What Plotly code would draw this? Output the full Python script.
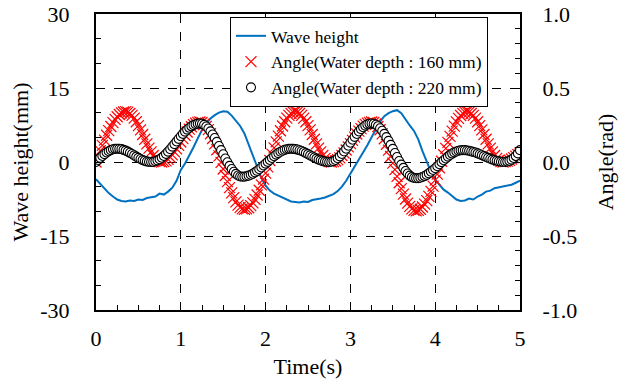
import plotly.graph_objects as go

# ---------------- data ----------------
# wave height (mm), sampled every 0.05 s from 0 to 5 s
time_wave = [round(i * 0.05, 3) for i in range(101)]
wave_height = [
    -3.5, -4.5, -5.5, -6.3, -7.0, -7.6, -7.9, -8.0, -7.8, -7.9,
    -7.6, -7.7, -7.3, -7.2, -7.0, -6.4, -6.6, -6.0, -5.2, -3.8,
    -1.6, -0.3, 1.2, 3.0, 4.8, 6.5, 7.8, 8.8, 9.5, 10.0,
    10.3, 10.2, 9.4, 8.3, 7.3, 5.8, 3.6, 1.0, -1.2, -3.2,
    -4.8, -5.8, -6.4, -6.8, -7.3, -7.7, -8.0, -8.1, -8.2, -8.0,
    -8.1, -7.7, -7.6, -7.4, -7.2, -6.9, -6.5, -5.9, -5.0, -3.8,
    -2.4, -1.0, 0.6, 2.0, 3.4, 5.0, 6.6, 8.2, 9.3, 9.9,
    10.3, 10.5, 9.9, 8.6, 7.4, 6.3, 4.6, 2.2, 0.0, -2.0,
    -3.6, -4.6, -5.6, -6.2, -6.9, -7.6, -7.9, -7.8, -7.4, -7.6,
    -7.0, -6.6, -6.0, -5.8, -5.3, -5.1, -4.9, -4.7, -4.6, -4.2,
    -3.8,
]

# angles (rad), sampled every 0.025 s from 0 to 5 s
time_angle = [round(i * 0.025, 3) for i in range(201)]
angle_160 = [
    0.0, 0.038, 0.076, 0.112, 0.148, 0.181, 0.212, 0.240, 0.266, 0.288,
    0.306, 0.321, 0.332, 0.338, 0.34,
    0.337, 0.328, 0.315, 0.296, 0.272, 0.246, 0.217, 0.186, 0.154, 0.123,
    0.094, 0.068, 0.044, 0.025, 0.011, 0.003, 0.0,
    0.002, 0.008, 0.018, 0.032, 0.048, 0.068, 0.089, 0.112, 0.135, 0.158,
    0.181, 0.203, 0.222, 0.238, 0.252, 0.262, 0.268, 0.27,
    0.267, 0.257, 0.241, 0.219, 0.191, 0.159, 0.123, 0.083, 0.041, -0.003,
    -0.047, -0.091, -0.133, -0.173, -0.209, -0.241, -0.269, -0.291, -0.307, -0.317,
    -0.32,
    -0.317, -0.309, -0.295, -0.276, -0.252, -0.223, -0.191, -0.155, -0.116, -0.075,
    -0.033, 0.010, 0.053, 0.095, 0.136, 0.175, 0.211, 0.243, 0.272, 0.296,
    0.315, 0.329, 0.337, 0.34,
    0.337, 0.328, 0.315, 0.296, 0.272, 0.246, 0.217, 0.186, 0.154, 0.123,
    0.094, 0.068, 0.044, 0.025, 0.011, 0.003, 0.0,
    0.002, 0.007, 0.016, 0.028, 0.044, 0.061, 0.081, 0.102, 0.124, 0.146,
    0.168, 0.189, 0.209, 0.226, 0.242, 0.254, 0.263, 0.268, 0.27,
    0.267, 0.257, 0.240, 0.218, 0.190, 0.157, 0.120, 0.080, 0.037, -0.008,
    -0.052, -0.097, -0.140, -0.180, -0.217, -0.250, -0.278, -0.300, -0.317, -0.327,
    -0.33,
    -0.327, -0.319, -0.304, -0.285, -0.261, -0.232, -0.199, -0.163, -0.123, -0.082,
    -0.039, 0.005, 0.049, 0.092, 0.133, 0.173, 0.209, 0.242, 0.271, 0.295,
    0.314, 0.329, 0.337, 0.34,
    0.337, 0.328, 0.315, 0.296, 0.272, 0.246, 0.217, 0.186, 0.154, 0.123,
    0.094, 0.068, 0.044, 0.025, 0.011, 0.003, 0.0,
    0.002, 0.006, 0.012, 0.020, 0.030, 0.040, 0.050, 0.060,
]
angle_220 = [
    0.0, 0.014, 0.028, 0.041, 0.053, 0.064, 0.073, 0.080, 0.086, 0.089,
    0.09,
    0.089, 0.087, 0.082, 0.077, 0.070, 0.062, 0.054, 0.045, 0.036, 0.028,
    0.020, 0.013, 0.008, 0.003, 0.001, 0.0,
    0.001, 0.005, 0.011, 0.019, 0.029, 0.041, 0.055, 0.070, 0.086, 0.104,
    0.121, 0.139, 0.156, 0.174, 0.190, 0.205, 0.219, 0.231, 0.241, 0.249,
    0.255, 0.259, 0.26,
    0.258, 0.251, 0.240, 0.226, 0.207, 0.186, 0.162, 0.136, 0.108, 0.080,
    0.052, 0.024, -0.002, -0.026, -0.047, -0.066, -0.080, -0.091, -0.098, -0.10,
    -0.099, -0.096, -0.092, -0.086, -0.079, -0.070, -0.060, -0.049, -0.037, -0.024,
    -0.011, 0.001, 0.014, 0.027, 0.039, 0.050, 0.060, 0.069, 0.076, 0.082,
    0.086, 0.089, 0.09,
    0.089, 0.087, 0.084, 0.079, 0.074, 0.068, 0.060, 0.053, 0.045, 0.037,
    0.030, 0.023, 0.016, 0.011, 0.006, 0.003, 0.001, 0.0,
    0.002, 0.006, 0.014, 0.025, 0.038, 0.054, 0.071, 0.090, 0.110, 0.130,
    0.150, 0.170, 0.189, 0.206, 0.222, 0.235, 0.246, 0.254, 0.258, 0.26,
    0.258, 0.252, 0.242, 0.228, 0.211, 0.190, 0.168, 0.143, 0.116, 0.089,
    0.061, 0.034, 0.007, -0.018, -0.040, -0.061, -0.078, -0.092, -0.102, -0.108,
    -0.11,
    -0.109, -0.106, -0.101, -0.095, -0.087, -0.077, -0.066, -0.054, -0.042, -0.029,
    -0.015, -0.001, 0.012, 0.024, 0.036, 0.047, 0.057, 0.065, 0.071, 0.076,
    0.079, 0.08,
    0.080, 0.078, 0.076, 0.072, 0.068, 0.064, 0.058, 0.052, 0.046, 0.040,
    0.034, 0.028, 0.022, 0.016, 0.012, 0.008, 0.004, 0.002, 0.0, 0.0,
    0.003, 0.008, 0.016, 0.027, 0.040, 0.058, 0.08,
]

x_ticks = [0, 1, 2, 3, 4, 5]
x_ticktext = ["0", "1", "2", "3", "4", "5"]
y_ticks = [-30, -15, 0, 15, 30]
y_ticktext = ["-30", "-15", "0", "15", "30"]
y2_ticks = [-1.0, -0.5, 0.0, 0.5, 1.0]
y2_ticktext = ["-1.0", "-0.5", "0.0", "0.5", "1.0"]

FONT = "Liberation Serif"
TICK_SIZE = 22
TITLE_SIZE = 22

fig = go.Figure()
fig.add_trace(go.Scatter(
    x=time_wave, y=wave_height, mode="lines", name="Wave height",
    line=dict(color="#0070C0", width=2), yaxis="y",
))
fig.add_trace(go.Scatter(
    x=time_angle, y=angle_160, mode="markers", name="Angle(Water depth : 160 mm)",
    marker=dict(symbol="x-thin", size=11, line=dict(color="#FF0000", width=1.2),
                color="#FF0000"),
    yaxis="y2",
))
fig.add_trace(go.Scatter(
    x=time_angle, y=angle_220, mode="markers", name="Angle(Water depth : 220 mm)",
    marker=dict(symbol="circle", size=9, color="white",
                line=dict(color="black", width=1.1)),
    yaxis="y2",
))

fig.update_layout(
    width=625, height=387,
    margin=dict(l=96, r=105, t=14, b=77),
    paper_bgcolor="white", plot_bgcolor="white",
    font=dict(family=FONT, color="black", size=TICK_SIZE),
    showlegend=True,
    legend=dict(
        x=0.316, y=0.99, xanchor="left", yanchor="top",
        bgcolor="white", bordercolor="black", borderwidth=1,
        font=dict(family=FONT, size=17.5, color="black"),
        tracegroupgap=0, itemsizing="trace",
    ),
    xaxis=dict(
        range=[0, 5], tickmode="array", tickvals=x_ticks, ticktext=x_ticktext,
        ticks="inside", ticklen=6, tickwidth=1, tickcolor="black",
        showline=True, linecolor="black", linewidth=2, mirror=True,
        showgrid=True, gridcolor="black", griddash="dash", gridwidth=1,
        zeroline=False, ticklabelstandoff=8, automargin=False,
        minor=dict(tickmode="linear", tick0=0, dtick=0.25, ticks="inside",
                   ticklen=5, tickcolor="black", showgrid=False),
        title=dict(text="Time(s)", font=dict(size=TITLE_SIZE), standoff=8),
        tickfont=dict(size=TICK_SIZE),
    ),
    yaxis=dict(
        range=[-30, 30], tickmode="array", tickvals=y_ticks, ticktext=y_ticktext,
        ticks="inside", ticklen=6, tickwidth=1, tickcolor="black",
        showline=True, linecolor="black", linewidth=2, mirror=True,
        showgrid=True, gridcolor="black", griddash="dash", gridwidth=1,
        zeroline=False, ticklabelstandoff=20, automargin=False,
        ticklabeloverflow="allow",
        minor=dict(tickmode="linear", tick0=0, dtick=5, ticks="inside",
                   ticklen=5, tickcolor="black", showgrid=False),
        title=dict(text="Wave height(mm)", font=dict(size=TITLE_SIZE), standoff=6),
        tickfont=dict(size=TICK_SIZE),
    ),
    yaxis2=dict(
        range=[-1, 1], overlaying="y", side="right",
        tickmode="array", tickvals=y2_ticks, ticktext=y2_ticktext,
        ticks="inside", ticklen=6, tickwidth=1, tickcolor="black",
        showline=True, linecolor="black", linewidth=2,
        showgrid=False, zeroline=False, ticklabelstandoff=16, automargin=False,
        ticklabeloverflow="allow",
        minor=dict(tickmode="linear", tick0=0, dtick=0.1, ticks="inside",
                   ticklen=5, tickcolor="black", showgrid=False),
        title=dict(text="Angle(rad)", font=dict(size=TITLE_SIZE), standoff=21),
        tickfont=dict(size=TICK_SIZE),
    ),
)

# remove the browser's default 8px page margin so the figure sits at (0, 0)
fig.write_html("out.html", config={"displayModeBar": False},
               post_script="document.body.style.margin = '0px';")
